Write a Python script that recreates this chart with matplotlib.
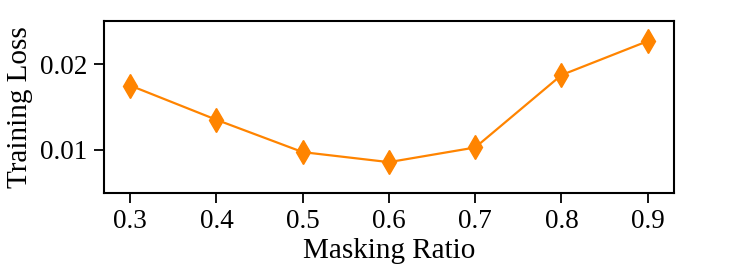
import matplotlib
matplotlib.use("Agg")
import matplotlib.pyplot as plt

# masking ratio vs training loss
masking_ratio = [0.3, 0.4, 0.5, 0.6, 0.7, 0.8, 0.9]
training_loss = [0.01750, 0.01350, 0.00973, 0.00856, 0.01027, 0.01872, 0.02268]

plt.rcParams['font.family'] = ['Liberation Serif', 'DejaVu Serif']

fig = plt.figure(figsize=(7.48, 2.76), dpi=100)
ax = fig.add_axes([0.1395, 0.302, 0.761, 0.621])

ax.plot(masking_ratio, training_loss, color='#ff8400', marker='d',
        markersize=12, linewidth=1.6)

ax.set_ylim(0.005, 0.025)
ax.set_yticks([0.01, 0.02])
ax.set_xticks(masking_ratio)
ax.set_xticklabels([str(v) for v in masking_ratio])
ax.set_yticklabels(['0.01', '0.02'])

ax.tick_params(axis='both', labelsize=19.5, length=7, width=1.3, pad=5)
for sp in ax.spines.values():
    sp.set_linewidth(1.5)

ax.set_xlabel('Masking Ratio', fontsize=21, labelpad=3)
ax.set_ylabel('Training Loss', fontsize=21, labelpad=5)

fig.savefig('out.png', dpi=100)
